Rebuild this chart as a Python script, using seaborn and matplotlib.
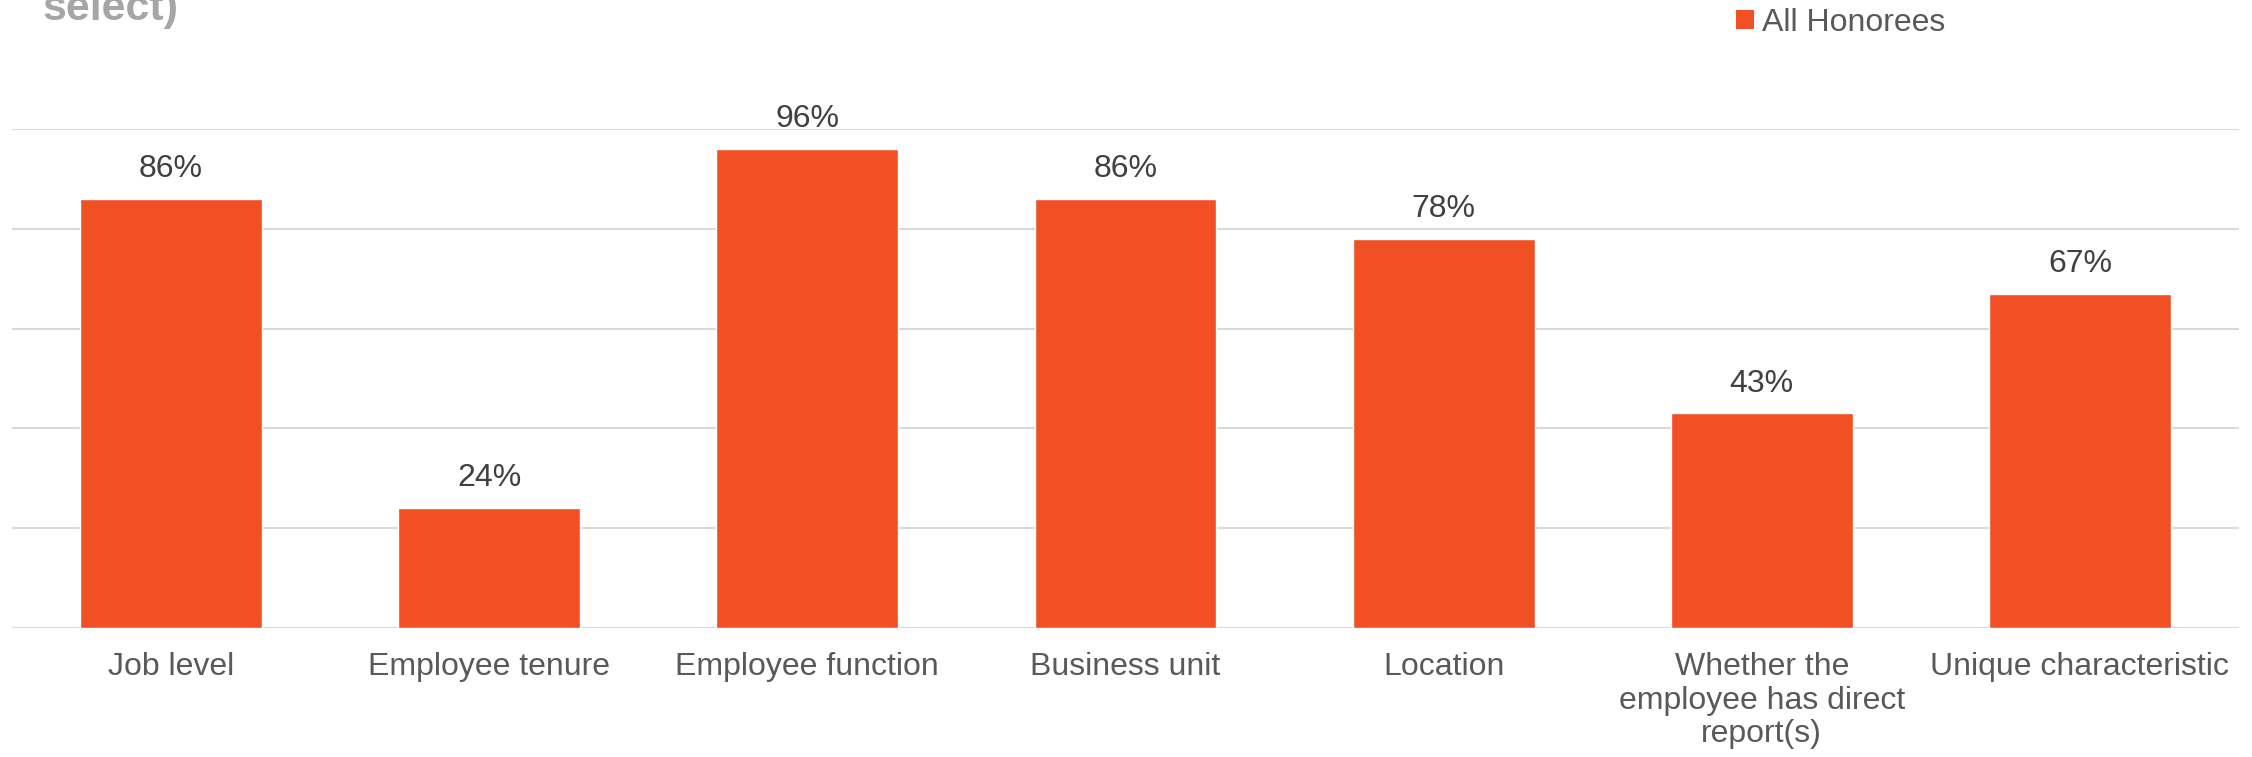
import matplotlib
matplotlib.use("Agg")
import matplotlib.pyplot as plt
import seaborn as sns
import pandas as pd
from matplotlib.patches import Patch

categories = ["Job level", "Employee tenure", "Employee function", "Business unit",
              "Location", "Whether the\nemployee has direct\nreport(s)", "Unique characteristic"]
values = [86, 24, 96, 86, 78, 43, 67]
series_name = "All Honorees"
title_text = "select)"

BAR = "#F05023"
GRID = "#D9D9D9"
TXT = "#595959"
LBL = "#404040"

sns.set_theme(style="white")
plt.rcParams['font.family'] = ['Liberation Sans', 'DejaVu Sans']

df = pd.DataFrame({"cat": categories, "val": values})

fig = plt.figure(figsize=(22.52, 7.57), dpi=100)
ax = fig.add_axes([12/2252, 1-628/757, (2239-12)/2252, (628-129)/757])
sns.barplot(data=df, x="cat", y="val", color=BAR, width=0.572, saturation=1, ax=ax, zorder=3)

ax.set_ylim(0, 100)
ax.set_xlim(-0.5, len(categories)-0.5)
for y in range(0, 101, 20):
    ax.axhline(y, color=GRID, lw=1.5, zorder=1)
for s in ax.spines.values():
    s.set_visible(False)
ax.set_yticks([])
ax.set_xlabel("")
ax.set_ylabel("")
ax.tick_params(axis='x', length=0, pad=17, labelsize=23, labelcolor=TXT)
for t in ax.get_xticklabels():
    t.set_linespacing(1.17)
    t.set_verticalalignment('top')

for i, v in enumerate(values):
    ax.annotate(f"{v}%", (i, v), xytext=(0, 21.5), textcoords="offset points",
                ha="center", va="center", fontsize=23, color=LBL)

fig.text(43/2252, 1-20/757, title_text, fontsize=31, fontweight="bold", color="#A6A6A6",
         ha="left", va="baseline")

handles = [Patch(facecolor=BAR, edgecolor="none", label=series_name)]
fig.legend(handles=handles, loc="center left", bbox_to_anchor=(1736/2252, 1-23/757),
           frameon=False, fontsize=23, labelcolor=TXT, borderpad=0, borderaxespad=0,
           handlelength=0.55, handleheight=0.55, handletextpad=0.25)

fig.savefig("out.png", dpi=100)
